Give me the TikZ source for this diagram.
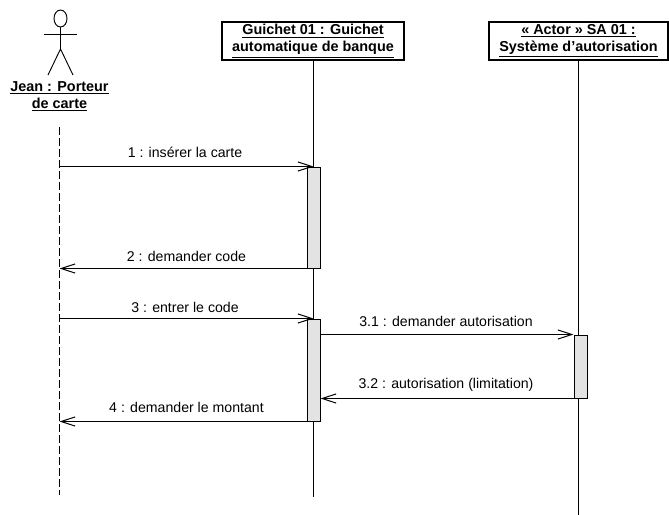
\documentclass[tikz,border=0pt]{standalone}
\usepackage{fontspec}
\setmainfont{Liberation Sans}
\usetikzlibrary{arrows.meta,shapes.geometric}
\tikzset{
	objbox/.style={draw, line width=0.9pt, fill=white, minimum height=28.5pt, inner sep=0pt, align=center, font=\bfseries\fontsize{10.8}{12.8}\selectfont},
	actlabel/.style={align=center, inner sep=0pt, font=\bfseries\fontsize{10.8}{12.8}\selectfont},
	msglabel/.style={inner sep=0pt, font=\fontsize{10.6}{12}\selectfont},
	activation/.style={draw, line width=0.75pt, fill=black!11, minimum width=9.75pt, inner sep=0pt},
	msg/.style={line width=0.75pt, -{Straight Barb[length=10.5pt,width=7.5pt,angle'=36]}},
	lifeline/.style={line width=0.75pt}
}

\begin{document}
\begin{tikzpicture}[x=0.75pt,y=-0.75pt]
\useasboundingbox (0,0) rectangle (669,515);
\path (60.5,18.5) node[draw, ellipse, minimum width=9.75pt, minimum height=12.75pt, inner sep=0pt, line width=0.7pt] (head) {}
		(60.5,49) coordinate (hips)
		(44,34) coordinate (armL)
		(77,34) coordinate (armR)
		(48,75) coordinate (footL)
		(73,75) coordinate (footR)
		(59.5,96) node[actlabel] (jean) {\underline{Jean : Porteur}\\\underline{de carte}}
		(59.5,127) coordinate (jeantop)
		(59.5,495) coordinate (jeanend)
		(313,41) node[objbox, minimum width=136.5pt] (guichet) {\underline{Guichet 01 : Guichet}\\\underline{automatique de banque}}
		(313,497) coordinate (guichetend)
		(578.5,41) node[objbox, minimum width=134.25pt] (sa) {\underline{« Actor » SA 01 :}\\\underline{Système d’autorisation}}
		(578.5,515) coordinate (saend)
		(185,152.5) node[msglabel] (l1) {1 : insérer la carte}
		(186.5,256.5) node[msglabel] (l2) {2 : demander code}
		(185,307) node[msglabel] (l3) {3 : entrer le code}
		(446,321) node[msglabel] (l31) {3.1 : demander autorisation}
		(446,385) node[msglabel] (l32) {3.2 : autorisation (limitation)}
		(186.5,407.5) node[msglabel] (l4) {4 : demander le montant}
		;
% lifelines
\draw[lifeline, dash pattern=on 6pt off 2.25pt] (jeantop) -- (jeanend);
\draw[lifeline] (guichet.south) -- (guichetend);
\draw[lifeline] (sa.south) -- (saend);
% actor
\draw[line width=0.7pt] (head.south) -- (hips);
\draw[line width=0.7pt] (armL) -- (armR);
\draw[line width=0.7pt] (footL) -- (hips) -- (footR);
% activations
\path (313.5,217.5) node[activation, minimum height=75.75pt] (acta) {}
		(313.5,370) node[activation, minimum height=76.5pt] (actb) {}
		(580.5,366.5) node[activation, minimum height=47.25pt] (actc) {}
		;
% messages
\draw[msg] (acta.north west -| jeantop) -- (acta.north);
\draw[msg] (acta.south west) -- (acta.south west -| jeantop);
\draw[msg] (actb.north west -| jeantop) -- (actb.north);
\draw[msg] (actc.north west -| actb.east) -- (actc.north west);
\draw[msg] (actc.south west) -- (actc.south west -| actb.east);
\draw[msg] (actb.south west) -- (actb.south west -| jeantop);
\end{tikzpicture}
\end{document}
